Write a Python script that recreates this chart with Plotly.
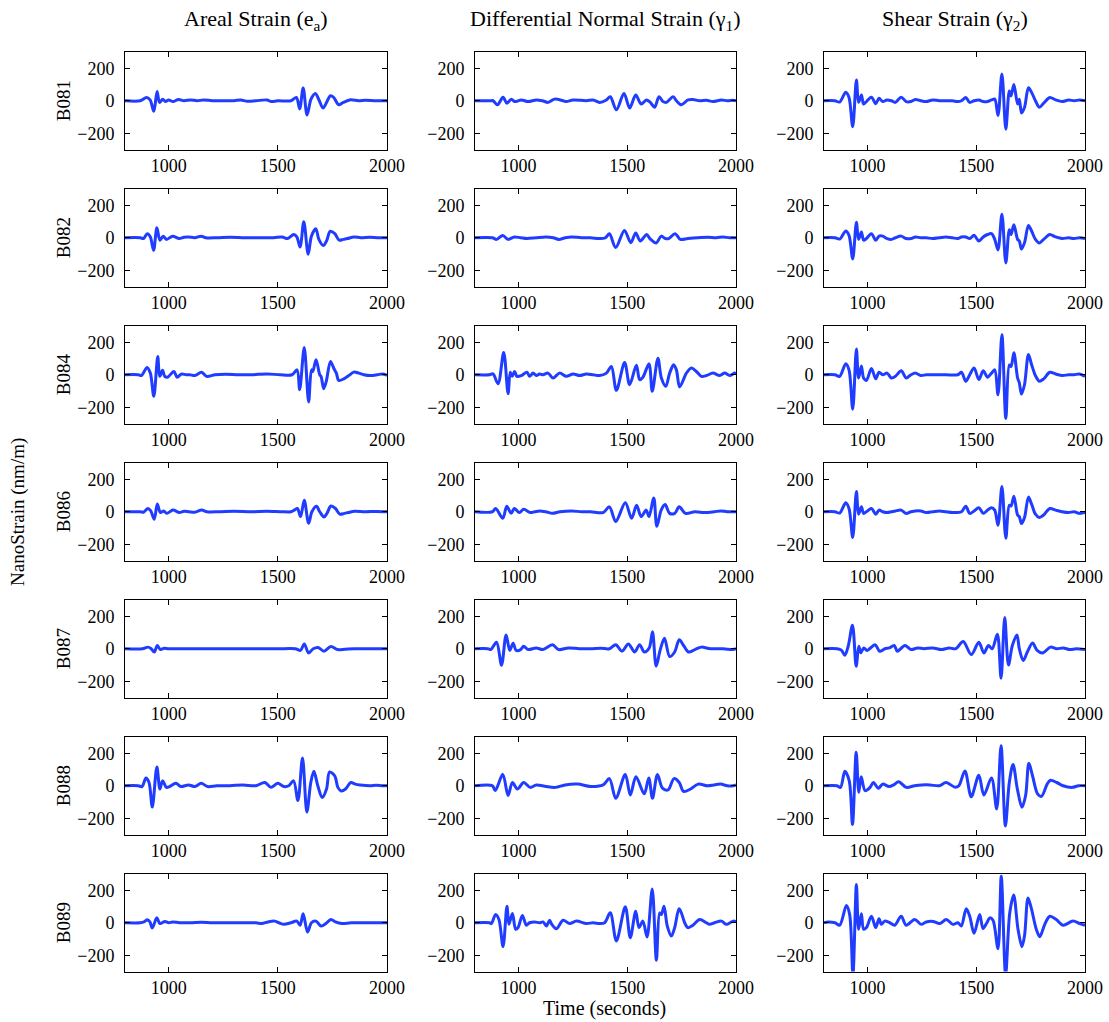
import plotly.graph_objects as go

W, H = 1109, 1022
BLUE = "#1f3cff"
FONT = "Liberation Serif"

STATIONS = ["B081", "B082", "B084", "B086", "B087", "B088", "B089"]
COMPONENT_TITLES = ["Areal Strain (e<sub>a</sub>)",
                    "Differential Normal Strain (γ<sub>1</sub>)",
                    "Shear Strain (γ<sub>2</sub>)"]
X_TICKS = [1000, 1500, 2000]
Y_TICKS = [-200, 0, 200]
X_RANGE = [800, 2000]
Y_RANGE = [-300, 300]
Y_LABEL = "NanoStrain (nm/m)"
X_LABEL = "Time (seconds)"

# ---------------- Areal strain (time s, nanostrain) ----------------
B081_ea = [(800,0),(870,0),(898,20),(915,5),(932,-65),(947,57),(958,-10),(973,10),(985,-5),(1000,5),(1020,-5),(1045,8),(1070,0),(1100,5),(1130,0),(1160,5),(1200,0),(1260,0),(1300,0),(1330,5),(1360,-3),(1400,0),(1450,5),(1470,-5),(1500,0),(1560,0),(1585,20),(1600,-50),(1616,78),(1634,-88),(1652,10),(1672,45),(1690,0),(1707,-45),(1741,31),(1756,20),(1779,-25),(1800,-10),(1833,6),(1870,0),(1900,3),(1950,0),(2000,0)]
B082_ea = [(800,0),(870,0),(885,-5),(902,25),(916,5),(931,-77),(946,61),(960,-15),(975,10),(990,-10),(1018,10),(1048,-5),(1070,3),(1091,5),(1120,0),(1149,10),(1170,0),(1220,0),(1280,3),(1350,0),(1420,0),(1480,0),(1520,5),(1545,-5),(1573,20),(1587,5),(1602,-57),(1619,99),(1639,-101),(1654,10),(1674,55),(1688,-10),(1708,-48),(1723,-20),(1740,40),(1761,25),(1781,-15),(1800,-10),(1819,-5),(1848,5),(1880,0),(1920,3),(1960,0),(2000,0)]
B084_ea = [(800,0),(860,0),(875,-5),(901,45),(916,10),(932,-133),(950,112),(959,-10),(972,27),(982,-10),(995,-15),(1024,20),(1039,-15),(1059,5),(1080,0),(1097,0),(1120,-5),(1151,15),(1174,-10),(1212,0),(1260,3),(1320,0),(1380,0),(1450,5),(1511,0),(1565,0),(1588,30),(1600,-92),(1621,167),(1641,-167),(1654,30),(1660,20),(1675,92),(1692,0),(1698,-10),(1710,-86),(1722,-40),(1741,82),(1756,40),(1768,10),(1779,-35),(1802,-25),(1825,-5),(1848,16),(1871,10),(1894,0),(1925,-5),(1956,0),(1979,5),(2000,-3)]
B086_ea = [(800,0),(870,0),(885,-3),(905,20),(918,5),(934,-46),(948,48),(962,-5),(977,5),(991,-10),(1020,10),(1049,-5),(1070,3),(1093,0),(1120,-3),(1151,10),(1175,0),(1230,0),(1300,3),(1380,0),(1450,3),(1520,0),(1560,0),(1575,10),(1590,20),(1604,-30),(1621,71),(1641,-71),(1656,0),(1677,34),(1692,0),(1711,-32),(1725,-10),(1743,35),(1764,20),(1784,-15),(1805,-10),(1822,-5),(1851,3),(1900,0),(1950,2),(2000,0)]
B087_ea = [(800,0),(880,0),(905,10),(920,0),(934,-20),(948,20),(962,-5),(980,3),(1000,0),(1100,0),(1200,0),(1300,0),(1400,0),(1500,0),(1580,0),(1604,-10),(1621,30),(1641,-26),(1662,0),(1685,8),(1711,-15),(1743,14),(1773,-5),(1808,-3),(1850,0),(2000,0)]
B088_ea = [(800,0),(860,0),(878,-5),(896,48),(910,20),(925,-131),(946,115),(960,-20),(972,30),(990,-10),(1004,-5),(1033,15),(1056,-5),(1091,5),(1120,-5),(1149,15),(1178,-5),(1220,0),(1280,0),(1340,5),(1400,0),(1440,20),(1469,-10),(1499,15),(1528,-5),(1550,0),(1572,30),(1592,-91),(1613,170),(1633,-162),(1651,20),(1665,89),(1683,0),(1703,-73),(1723,-20),(1737,85),(1761,60),(1775,-10),(1790,-32),(1810,-20),(1834,20),(1855,10),(1877,5),(1921,0),(1950,3),(1980,0),(2000,0)]
B089_ea = [(800,0),(870,0),(887,5),(902,18),(914,5),(925,-32),(946,30),(960,-5),(983,8),(1000,0),(1018,5),(1050,0),(1100,0),(1150,3),(1200,0),(1300,0),(1400,0),(1426,-5),(1455,5),(1485,10),(1505,0),(1528,-10),(1560,0),(1587,10),(1602,-15),(1616,55),(1636,-57),(1654,0),(1674,10),(1698,-20),(1720,-5),(1743,20),(1764,5),(1793,-5),(1836,0),(1900,0),(2000,0)]

# ---------------- Differential normal strain ----------------
B081_g1 = [(800,0),(870,0),(883,0),(903,-25),(929,21),(947,-15),(967,10),(982,-5),(1013,5),(1044,-5),(1082,5),(1110,0),(1136,-10),(1166,10),(1205,0),(1220,-5),(1251,5),(1312,0),(1343,5),(1373,-10),(1404,5),(1422,25),(1450,-56),(1485,45),(1511,-45),(1539,35),(1564,-20),(1588,5),(1606,-10),(1626,-40),(1646,25),(1664,-5),(1680,-10),(1711,25),(1726,0),(1749,-25),(1779,5),(1802,8),(1833,0),(1864,3),(1894,-5),(1933,5),(1960,0),(1986,3),(2000,0)]
B082_g1 = [(800,0),(880,0),(899,-10),(928,14),(952,-10),(981,5),(1010,0),(1039,-5),(1080,0),(1127,5),(1160,0),(1185,-10),(1215,0),(1243,5),(1290,0),(1331,0),(1374,-5),(1400,0),(1418,24),(1447,-60),(1487,45),(1516,-30),(1539,30),(1560,-20),(1589,20),(1604,-5),(1633,-32),(1656,10),(1675,-5),(1691,-5),(1720,25),(1744,-10),(1779,-5),(1822,0),(1870,3),(1910,0),(1939,5),(1970,0),(2000,0)]
B084_g1 = [(800,0),(867,0),(883,5),(906,-55),(932,137),(952,-116),(962,15),(971,-10),(982,20),(993,-10),(1013,-5),(1039,15),(1051,-10),(1067,10),(1082,-5),(1097,5),(1113,0),(1136,10),(1159,-20),(1189,10),(1220,-10),(1251,5),(1281,-5),(1312,5),(1343,0),(1373,-5),(1404,10),(1427,51),(1450,-96),(1488,75),(1511,-61),(1542,58),(1557,-30),(1572,-15),(1600,67),(1615,-102),(1641,102),(1657,-20),(1677,-71),(1695,10),(1713,61),(1726,30),(1741,-75),(1772,10),(1795,41),(1818,20),(1841,-10),(1864,-5),(1894,10),(1925,-5),(1948,10),(1971,-5),(1994,10),(2000,5)]
B086_g1 = [(800,0),(880,0),(895,20),(928,-40),(946,34),(966,-10),(981,20),(1004,-5),(1024,15),(1054,-5),(1075,0),(1097,5),(1125,0),(1156,-10),(1191,0),(1243,5),(1290,0),(1331,0),(1389,-5),(1418,30),(1447,-60),(1491,55),(1520,-40),(1543,40),(1564,-30),(1587,10),(1600,-30),(1622,85),(1636,-90),(1656,10),(1674,44),(1695,-10),(1718,-10),(1739,30),(1768,-10),(1811,0),(1856,-5),(1900,0),(1929,5),(1960,0),(2000,0)]
B087_g1 = [(800,0),(859,0),(873,-5),(899,40),(922,-101),(943,85),(960,-10),(975,34),(989,-10),(1010,-5),(1024,15),(1044,-5),(1082,5),(1112,-5),(1156,24),(1185,-5),(1229,5),(1280,0),(1331,0),(1380,3),(1418,0),(1447,25),(1476,-15),(1505,30),(1534,-20),(1557,25),(1578,-20),(1601,5),(1616,105),(1633,-107),(1651,-10),(1671,65),(1695,-48),(1718,-20),(1739,55),(1759,20),(1782,-20),(1811,-5),(1840,10),(1883,0),(1942,0),(1985,-5),(2000,0)]
B088_g1 = [(800,0),(880,0),(893,-30),(928,70),(952,-60),(972,20),(995,-20),(1024,20),(1054,-10),(1082,5),(1127,-5),(1170,-10),(1214,5),(1272,10),(1331,-5),(1389,5),(1418,44),(1447,-77),(1491,69),(1514,-57),(1540,55),(1578,-50),(1599,48),(1616,-77),(1639,69),(1662,-15),(1688,-25),(1715,44),(1739,20),(1759,-35),(1791,-20),(1826,10),(1869,0),(1900,5),(1929,10),(1960,0),(1987,0),(2000,5)]
B089_g1 = [(800,0),(867,0),(875,-5),(895,51),(910,20),(929,-147),(947,102),(956,-10),(972,57),(987,-40),(998,-30),(1018,45),(1036,-15),(1051,0),(1074,5),(1097,0),(1113,5),(1128,-20),(1143,15),(1151,-5),(1174,-37),(1205,15),(1235,-5),(1266,10),(1312,-5),(1343,0),(1373,-5),(1396,0),(1422,61),(1450,-112),(1491,98),(1514,-92),(1539,71),(1554,-30),(1572,10),(1591,-88),(1615,208),(1634,-231),(1649,60),(1657,50),(1669,102),(1684,-20),(1703,-82),(1718,-30),(1738,86),(1749,60),(1764,0),(1779,-30),(1802,-15),(1833,20),(1864,0),(1879,-10),(1902,0),(1933,10),(1956,-10),(1979,5),(1994,10),(2000,5)]

# ---------------- Shear strain ----------------
B081_g2 = [(800,0),(850,0),(872,-8),(900,52),(915,20),(932,-160),(949,128),(959,-10),(972,35),(982,-20),(995,-5),(1018,22),(1038,-18),(1053,15),(1070,-5),(1090,5),(1110,0),(1128,-10),(1155,22),(1178,-5),(1200,-5),(1220,8),(1245,0),(1270,-5),(1300,5),(1330,0),(1390,0),(1415,-5),(1432,0),(1452,20),(1470,-10),(1490,0),(1512,5),(1532,-5),(1552,-5),(1570,5),(1585,10),(1600,-90),(1618,165),(1636,-175),(1652,60),(1660,30),(1673,100),(1690,-20),(1698,10),(1708,-75),(1722,-40),(1740,80),(1755,50),(1772,0),(1790,-40),(1810,-15),(1838,20),(1865,5),(1895,-5),(1925,5),(1950,0),(1975,5),(2000,0)]
B082_g2 = [(800,0),(850,0),(872,-8),(900,42),(915,15),(932,-130),(949,95),(959,-10),(972,35),(982,-15),(995,-5),(1018,25),(1038,-15),(1053,10),(1070,10),(1090,-5),(1110,-10),(1128,0),(1155,10),(1178,-5),(1200,-5),(1220,5),(1245,0),(1270,0),(1300,-5),(1330,0),(1360,5),(1390,0),(1415,-5),(1432,5),(1452,5),(1470,-5),(1490,15),(1512,-20),(1532,5),(1552,20),(1570,25),(1585,-10),(1600,-75),(1618,145),(1636,-155),(1652,50),(1660,20),(1673,80),(1690,-10),(1698,-20),(1708,-70),(1722,-30),(1740,75),(1755,40),(1772,-10),(1790,-32),(1810,-10),(1838,20),(1865,5),(1895,-5),(1925,0),(1950,-5),(1975,0),(2000,-5)]
B084_g2 = [(800,0),(850,0),(872,-10),(900,68),(915,30),(932,-212),(949,158),(959,-20),(972,54),(982,-20),(995,-35),(1018,38),(1038,-25),(1053,15),(1070,0),(1090,10),(1110,-20),(1128,-10),(1155,25),(1178,-20),(1200,0),(1220,10),(1245,-5),(1270,0),(1300,0),(1360,0),(1415,0),(1432,15),(1452,-40),(1470,0),(1490,42),(1512,-30),(1532,25),(1552,-15),(1570,10),(1585,30),(1600,-123),(1618,246),(1636,-269),(1652,60),(1660,50),(1673,135),(1690,-20),(1698,-50),(1708,-119),(1722,-60),(1740,125),(1755,60),(1772,-5),(1790,-40),(1810,-25),(1838,15),(1865,5),(1895,-5),(1925,0),(1950,0),(1975,5),(2000,-10)]
B086_g2 = [(800,0),(850,0),(872,-8),(900,55),(915,20),(932,-158),(949,125),(959,-15),(972,30),(982,-10),(995,0),(1018,20),(1038,-15),(1053,10),(1070,0),(1090,-5),(1110,0),(1128,5),(1155,10),(1178,-10),(1200,0),(1245,5),(1270,-5),(1300,0),(1330,5),(1360,0),(1390,-5),(1432,0),(1452,34),(1470,-10),(1490,5),(1512,25),(1532,-10),(1552,10),(1570,25),(1585,10),(1600,-83),(1618,155),(1636,-163),(1652,40),(1660,35),(1673,95),(1690,-20),(1698,-30),(1708,-73),(1722,-35),(1740,90),(1755,45),(1772,-15),(1790,-35),(1810,-20),(1838,20),(1865,10),(1895,0),(1925,-5),(1950,0),(1975,-10),(2000,-5)]
B087_g2 = [(800,0),(860,0),(881,-10),(896,-40),(912,20),(931,145),(948,-107),(960,15),(969,-25),(983,5),(998,-10),(1035,25),(1056,-15),(1080,0),(1100,5),(1123,20),(1137,-15),(1172,20),(1201,-5),(1230,5),(1260,0),(1300,5),(1340,-5),(1375,5),(1405,0),(1440,45),(1477,-36),(1512,40),(1535,-26),(1556,20),(1573,0),(1597,89),(1614,-182),(1631,192),(1648,-100),(1666,20),(1687,85),(1698,0),(1716,-73),(1735,-20),(1759,35),(1780,-10),(1806,-26),(1841,10),(1870,0),(1900,5),(1930,-5),(1960,0),(2000,-5)]
B088_g2 = [(800,0),(860,0),(876,-10),(896,89),(916,30),(931,-238),(948,206),(960,-40),(971,55),(989,-30),(1012,-10),(1027,20),(1050,-15),(1070,10),(1099,-5),(1120,5),(1143,25),(1178,-10),(1216,0),(1250,5),(1288,5),(1330,0),(1361,20),(1404,-10),(1420,0),(1448,91),(1477,-67),(1512,65),(1535,-57),(1570,48),(1594,-143),(1614,246),(1634,-248),(1652,20),(1669,131),(1689,-20),(1710,-133),(1727,-60),(1742,139),(1759,60),(1782,-50),(1800,-65),(1826,10),(1841,34),(1870,20),(1899,0),(1942,-10),(1970,0),(2000,0)]
B089_g2 = [(800,0),(818,5),(850,0),(872,-15),(903,106),(918,50),(933,-320),(949,235),(959,-40),(972,55),(982,-40),(995,-30),(1018,40),(1038,-30),(1053,25),(1064,-10),(1079,10),(1102,0),(1125,-15),(1155,40),(1178,-15),(1217,20),(1247,-10),(1270,5),(1301,8),(1332,-5),(1362,20),(1393,-10),(1416,0),(1431,-20),(1454,86),(1470,40),(1490,-65),(1516,50),(1531,-35),(1549,0),(1562,30),(1577,15),(1600,-160),(1615,286),(1635,-320),(1654,60),(1672,170),(1692,-40),(1710,-147),(1722,-80),(1738,153),(1753,90),(1776,-40),(1792,-86),(1815,-10),(1838,40),(1868,20),(1899,-15),(1945,10),(1976,-5),(2000,-15)]

SERIES = [
    [B081_ea, B081_g1, B081_g2],
    [B082_ea, B082_g1, B082_g2],
    [B084_ea, B084_g1, B084_g2],
    [B086_ea, B086_g1, B086_g2],
    [B087_ea, B087_g1, B087_g2],
    [B088_ea, B088_g1, B088_g2],
    [B089_ea, B089_g1, B089_g2],
]

# ---------------- layout geometry (pixels) ----------------
COL_PX = [(125, 387), (475, 736), (824, 1085)]
ROW_TOP0, ROW_STEP, ROW_H = 52, 137, 97.5

fig = go.Figure()
layout_axes = {}
annotations = []

for r, st in enumerate(STATIONS):
    top = ROW_TOP0 + r * ROW_STEP
    bot = top + ROW_H
    for c in range(3):
        n = r * 3 + c + 1
        sfx = "" if n == 1 else str(n)
        pts = SERIES[r][c]
        t = [p[0] for p in pts]
        v = [p[1] for p in pts]
        fig.add_trace(go.Scatter(
            x=t, y=v, mode="lines",
            line=dict(color=BLUE, width=3, shape="spline", smoothing=0.9),
            xaxis="x" + sfx, yaxis="y" + sfx,
            showlegend=False, hoverinfo="skip"))
        x0, x1 = COL_PX[c]
        common = dict(showline=True, linecolor="black", linewidth=1, mirror="ticks",
                      ticks="inside", ticklen=5, tickwidth=1, tickcolor="black",
                      showgrid=False, zeroline=False, automargin=False,
                      tickfont=dict(family=FONT, size=18, color="black"))
        layout_axes["xaxis" + sfx] = dict(common, domain=[x0 / W, x1 / W], anchor="y" + sfx,
                                          range=X_RANGE, tickvals=X_TICKS,
                                          ticktext=[str(v) for v in X_TICKS])
        layout_axes["yaxis" + sfx] = dict(common, domain=[1 - bot / H, 1 - top / H], anchor="x" + sfx,
                                          range=Y_RANGE, tickvals=Y_TICKS,
                                          ticktext=[("\u2212" + str(-v)) if v < 0 else str(v) for v in Y_TICKS],
                                          ticklabelstandoff=6)
    annotations.append(dict(text=st, x=63.5 / W, y=1 - (top + ROW_H / 2) / H,
                            xref="paper", yref="paper", showarrow=False, textangle=-90,
                            xanchor="center", yanchor="middle",
                            font=dict(family=FONT, size=19, color="black")))

for c, title in enumerate(COMPONENT_TITLES):
    x0, x1 = COL_PX[c]
    annotations.append(dict(text=title, x=(x0 + x1) / 2 / W, y=1 - 20 / H,
                            xref="paper", yref="paper", showarrow=False,
                            xanchor="center", yanchor="middle",
                            font=dict(family=FONT, size=22, color="black")))

annotations.append(dict(text=Y_LABEL, x=18 / W, y=1 - 512 / H, xref="paper", yref="paper",
                        showarrow=False, textangle=-90, xanchor="center", yanchor="middle",
                        font=dict(family=FONT, size=19, color="black")))
annotations.append(dict(text=X_LABEL, x=604 / W, y=1 - 1008 / H, xref="paper", yref="paper",
                        showarrow=False, xanchor="center", yanchor="middle",
                        font=dict(family=FONT, size=20, color="black")))

fig.update_layout(width=W, height=H, autosize=False, margin=dict(l=0, r=0, t=0, b=0, autoexpand=False),
                  paper_bgcolor="white", plot_bgcolor="white", showlegend=False,
                  annotations=annotations, **layout_axes)

fig.write_html("out.html", config={"responsive": False},
               post_script="document.body.style.margin='0';document.documentElement.style.overflow='hidden';")
